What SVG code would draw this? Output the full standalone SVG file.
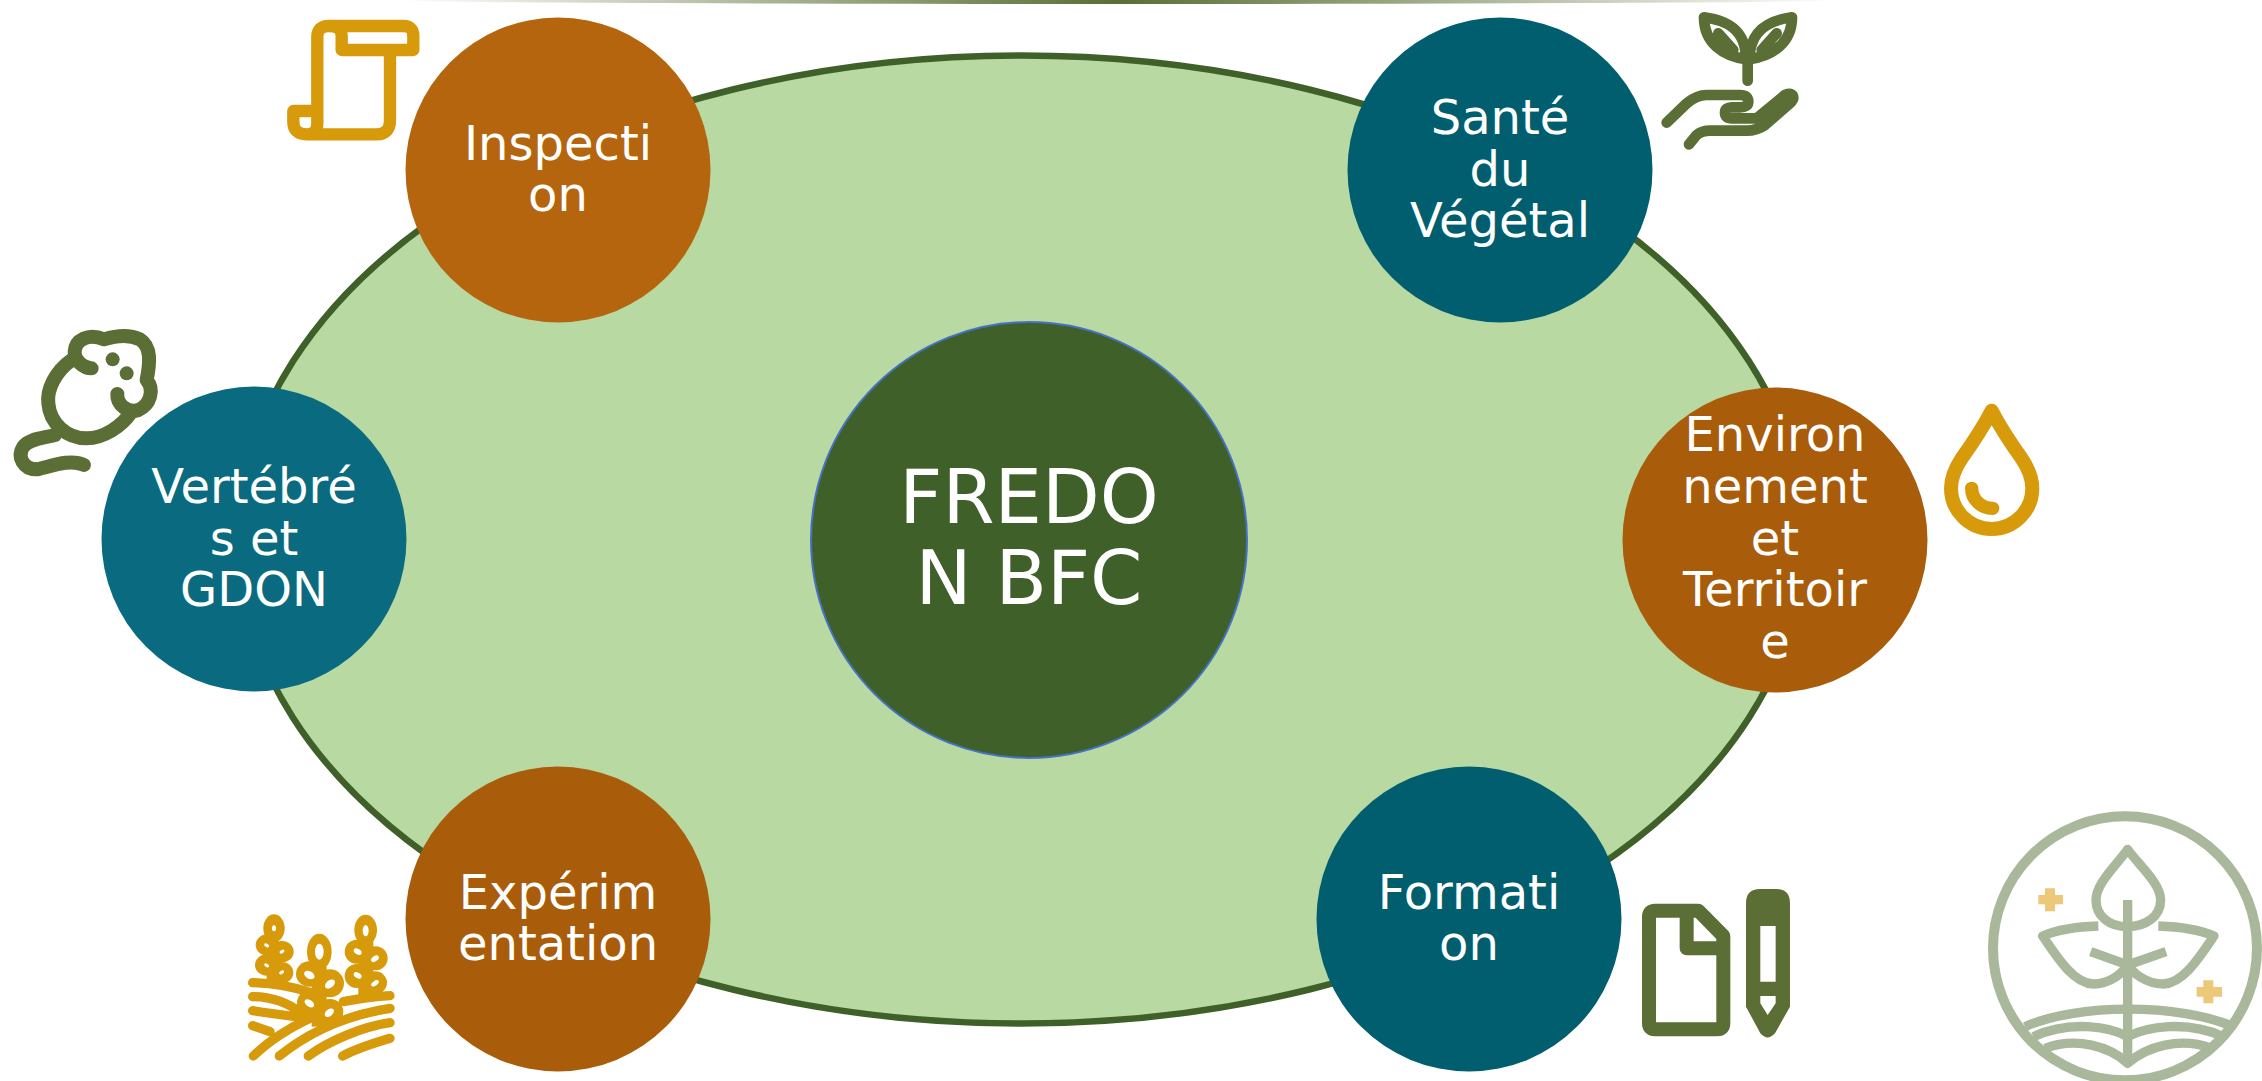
<svg xmlns="http://www.w3.org/2000/svg" width="2262" height="1081" viewBox="0 0 2262 1081">
<style>
text{font-family:"DejaVu Sans",sans-serif;fill:#fff;text-anchor:middle;font-size:48px}
.big{font-size:75px}
.gold{stroke:#d69a0a}.olive{stroke:#5a6e35}
.ic{fill:none;stroke-linecap:round;stroke-linejoin:round}
.sage{fill:none;stroke:#a9b79a;stroke-linejoin:round}
.cross{fill:#ecc878}
</style>
<defs>
<linearGradient id="top"><stop offset="0" stop-color="#5a6e35" stop-opacity="0"/><stop offset=".5" stop-color="#5a6e35"/><stop offset="1" stop-color="#5a6e35" stop-opacity="0"/></linearGradient>
<filter id="soft"><feGaussianBlur stdDeviation="0.7"/></filter>
</defs>
<rect width="2262" height="1081" fill="#fff"/>
<ellipse cx="1118" cy="0" rx="720" ry="4" fill="url(#top)"/>
<g id="background"><ellipse cx="1021" cy="539.5" rx="783" ry="484" fill="#b8d9a2" stroke="#3f6029" stroke-width="6.5"/></g>
<g id="centre"><circle cx="1029" cy="540" r="218" fill="#3f6029" stroke="#4472c4" stroke-width="2"/>
<text class="big" x="1029" y="523">FREDO</text><text class="big" x="1029" y="604">N BFC</text></g>
<g id="inspection"><circle cx="558" cy="170" r="152.5" fill="#b5650e"/>
<text x="558" y="160">Inspecti</text><text x="558" y="211">on</text>
<g transform="translate(270,0) scale(.3333)"><path class="ic gold" stroke-width="37" d="M142,333V110Q142,78 178,78H400Q430,78 430,108V150H215V108Q215,78 178,78M360,150V360Q360,403 320,403H110Q70,403 70,365V333H142V370Q142,403 110,403"/></g></g>
<g id="sante"><circle cx="1500" cy="170" r="152.5" fill="#005e6e"/>
<text x="1500" y="134">Santé</text><text x="1500" y="186">du</text><text x="1500" y="237">Végétal</text>
<g transform="translate(1640,0) scale(.3333)"><path class="ic olive" stroke-width="32" d="M192,52C255,60 318,85 318,178C250,168 192,130 192,52ZM456,52C393,60 330,85 328,178C396,168 456,130 456,52ZM235,100L280,150M410,100L365,150M323,178V242M80,368L140,310Q170,285 200,285H300Q325,285 325,305Q325,322 300,322H275Q255,322 255,338Q255,355 275,355H350L435,285Q460,275 460,295Q460,300 450,310L375,375Q350,392 320,392H210Q185,392 170,405L147,433"/></g></g>
<g id="vertebres"><circle cx="254" cy="539" r="152.5" fill="#0a6b80"/>
<text x="254" y="503">Vertébré</text><text x="254" y="555">s et</text><text x="254" y="606">GDON</text>
<g transform="translate(0,310) scale(.3333)"><path class="ic olive" stroke-width="42" d="M275,175C250,175 222,150 224,125C226,90 265,68 312,88C345,78 385,72 420,88C455,110 450,160 440,210C465,240 450,285 415,300C385,310 350,285 352,252M215,150C165,185 140,240 145,280C150,340 200,385 260,385C310,385 365,350 395,305M165,375C130,385 90,385 70,410C50,440 70,478 110,478C150,470 210,445 252,465"/><circle cx="338" cy="148" r="21" fill="#5a6e35" stroke="none"/><circle cx="380" cy="190" r="21" fill="#5a6e35" stroke="none"/></g></g>
<g id="environnement"><circle cx="1775" cy="540" r="152.5" fill="#a95c0a"/>
<text x="1775" y="451">Environ</text><text x="1775" y="503">nement</text><text x="1775" y="555">et</text><text x="1775" y="606">Territoir</text><text x="1775" y="658">e</text>
<g transform="translate(1920,390) scale(.3333)"><path class="ic gold" stroke-width="42" d="M215,62C190,110 150,170 125,205C115,220 93,255 93,295C93,362 148,417 215,417C282,417 337,362 337,295C337,255 315,220 305,205C280,170 240,110 215,62Z"/><path class="ic gold" stroke-width="40" d="M155,295C155,330 185,355 218,355"/></g></g>
<g id="experimentation"><circle cx="558" cy="919" r="152.5" fill="#a95c0a"/>
<text x="558" y="909">Expérim</text><text x="558" y="960">entation</text>
<g transform="translate(230,900) scale(.3333)"><g fill="#d69a0a"><ellipse cx="132" cy="85" rx="32" ry="42"/><ellipse cx="112" cy="135" rx="35" ry="32"/><ellipse cx="156" cy="155" rx="35" ry="32"/><ellipse cx="110" cy="195" rx="35" ry="32"/><ellipse cx="155" cy="218" rx="35" ry="32"/><rect x="110" y="125" width="45" height="120"/><ellipse cx="268" cy="155" rx="37" ry="54"/><ellipse cx="238" cy="222" rx="40" ry="38"/><ellipse cx="300" cy="250" rx="42" ry="42"/><ellipse cx="235" cy="310" rx="34" ry="38"/><ellipse cx="300" cy="335" rx="40" ry="38"/><rect x="245" y="200" width="45" height="180"/><ellipse cx="407" cy="90" rx="34" ry="46"/><ellipse cx="380" cy="155" rx="36" ry="36"/><ellipse cx="437" cy="175" rx="36" ry="36"/><ellipse cx="380" cy="228" rx="36" ry="36"/><ellipse cx="435" cy="248" rx="36" ry="34"/><rect x="385" y="120" width="45" height="170"/></g>
<g fill="#fff"><ellipse cx="132" cy="85" rx="6" ry="9"/><ellipse cx="268" cy="155" rx="13" ry="24"/><ellipse cx="407" cy="92" rx="9" ry="17"/><ellipse cx="110" cy="136" rx="8" ry="5" transform="rotate(30 110 136)"/><ellipse cx="156" cy="155" rx="8" ry="5" transform="rotate(-30 156 155)"/><ellipse cx="110" cy="196" rx="8" ry="5" transform="rotate(30 110 196)"/><ellipse cx="155" cy="217" rx="8" ry="5" transform="rotate(-30 155 217)"/><ellipse cx="238" cy="225" rx="17" ry="11" transform="rotate(30 238 225)"/><ellipse cx="300" cy="252" rx="17" ry="11" transform="rotate(-40 300 252)"/><ellipse cx="238" cy="310" rx="16" ry="10" transform="rotate(35 238 310)"/><ellipse cx="298" cy="338" rx="16" ry="10" transform="rotate(-40 298 338)"/><ellipse cx="383" cy="155" rx="13" ry="8" transform="rotate(30 383 155)"/><ellipse cx="435" cy="176" rx="13" ry="8" transform="rotate(-35 435 176)"/><ellipse cx="383" cy="226" rx="13" ry="8" transform="rotate(30 383 226)"/><ellipse cx="435" cy="250" rx="13" ry="7" transform="rotate(-35 435 250)"/></g>
<path class="ic gold" stroke-width="28" d="M68,248Q160,250 250,280M68,290Q150,290 215,340M68,332Q120,340 215,352M68,377L120,395M70,468Q140,400 250,350M148,468C220,410 320,350 480,325M235,468C300,420 400,380 480,368M338,468C380,445 430,430 480,415M340,305Q420,290 480,287"/></g></g>
<g id="formation"><circle cx="1469" cy="919" r="152.5" fill="#005e6e"/>
<text x="1469" y="909">Formati</text><text x="1469" y="960">on</text>
<g transform="translate(1620,870) scale(.3333)"><path class="ic olive" stroke-width="42" d="M105,122H235L310,198V460Q310,478 292,478H105Q87,478 87,460V140Q87,122 105,122ZM200,122V235H310"/><path fill="#5a6e35" fill-rule="evenodd" d="M378,100Q378,57 420,57H468Q510,57 510,100V410L465,490Q443,515 421,490L378,410ZM421,168V335H467V168ZM421,378V400L443,435L467,400V378Z"/></g></g>
<g id="logo" filter="url(#soft)"><g transform="translate(1970,800) scale(.3333)">
<circle class="sage" cx="465" cy="445" r="396" stroke-width="30"/>
<g class="sage" stroke-width="28"><path d="M473,148C440,195 378,250 378,300C378,350 420,380 473,380C526,380 572,350 572,300C572,250 506,195 473,148Z"/>
<path d="M473,300V790M385,378C320,380 260,390 218,408C260,470 310,550 370,552C420,552 460,520 473,490C486,520 530,552 580,552C640,550 690,470 732,408C690,390 630,380 565,378M362,455L473,495L588,455"/>
<path d="M165,680C320,610 630,610 790,680M190,710C300,660 420,680 473,710C530,680 650,660 760,710M225,745C320,710 420,740 473,790C530,740 630,710 725,745"/></g>
<path class="cross" d="M225,265H255V285H279V313H255V334H225V313H205V285H225ZM700,541H730V561H756V590H730V610H700V590H680V561H700Z"/></g></g>
</svg>
